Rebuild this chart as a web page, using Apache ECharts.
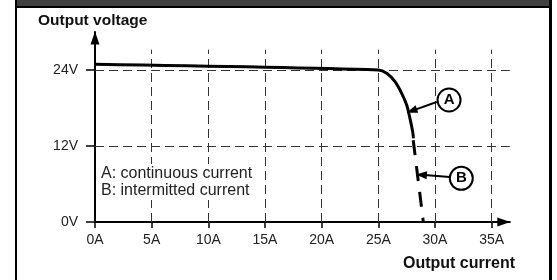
<!DOCTYPE html>
<html>
<head>
<meta charset="utf-8">
<script src="https://cdn.jsdelivr.net/npm/echarts@6/dist/echarts.min.js"></script>
<style>
  html, body { margin: 0; padding: 0; background: #fff; }
  #chart { width: 557px; height: 280px; }
</style>
</head>
<body>
<div id="chart"></div>
<script>
// ticks and gridlines
const xTicks = [0, 5, 10, 15, 20, 25, 30, 35]
const yTicks = [0, 12, 24]
const xGrid = [5, 10, 15, 20, 25, 30, 35]
const yGrid = [12, 24]
const gridTop = 27.2 // where the vertical dashed lines stop

// output curve (A, V)
const continuous = [
  [0, 24.9], [25, 24.0], [25.74, 23.48], [26.47, 22.16], [27.06, 20.32],
  [27.5, 18.47], [27.79, 16.37], [28.03, 14.26], [28.1, 13.2]
]
const intermitted = [[28.08, 12.9], [28.97, 0]]

// callouts
const calloutA = [31.24, 19.26]
const calloutB = [32.32, 6.9]
const arrowA = [[30.15, 18.95], [27.95, 17.55]]
const arrowB = [[31.3, 7.1], [28.8, 7.45]]

const X_MAX = 36.6
const Y_MAX = 30
const FONT = "'Liberation Sans', Arial, sans-serif"

const myChart = echarts.init(document.getElementById('chart'))

const dash = { color: '#333', width: 1, type: [9, 5] }

myChart.setOption({
  animation: false,
  backgroundColor: '#fff',
  grid: {
    left: 95, right: 557 - 95 - X_MAX * (68 / 6), top: 280 - 58 - Y_MAX * (76 / 12), bottom: 58,
    outerBoundsMode: 'none'
  },
  title: {
    text: 'A: continuous current\nB: intermitted current',
    left: 98, top: 164,
    padding: [1, 3],
    backgroundColor: '#fff',
    textStyle: { fontFamily: FONT, fontSize: 16, fontWeight: 'normal', color: '#222', lineHeight: 17 }
  },
  graphic: [
    { type: 'rect', shape: { x: 15, y: 0, width: 537, height: 6 }, style: { fill: '#404040' } },
    { type: 'rect', shape: { x: 15, y: 6, width: 537, height: 2 }, style: { fill: '#000' } },
    { type: 'rect', shape: { x: 15, y: 0, width: 2, height: 280 }, style: { fill: '#000' } },
    { type: 'rect', shape: { x: 549, y: 0, width: 3, height: 280 }, style: { fill: '#000' } },
    {
      type: 'text', left: 38, top: 13,
      style: { text: 'Output voltage', font: 'bold 15.5px ' + FONT, fill: '#111' }
    },
    {
      type: 'text', left: 403, top: 256,
      style: { text: 'Output current', font: 'bold 16px ' + FONT, fill: '#111' }
    }
  ],
  xAxis: {
    type: 'value', min: 0, max: X_MAX,
    splitLine: { show: false },
    axisLine: { lineStyle: { color: '#000', width: 2 }, symbol: ['none', 'triangle'], symbolSize: [9, 13], symbolOffset: [0, -6] },
    axisTick: { show: true, length: 6, customValues: xTicks, lineStyle: { color: '#000', width: 1.5 } },
    axisLabel: { customValues: xTicks, formatter: v => v + 'A', margin: 11, fontFamily: FONT, fontSize: 14, color: '#222' }
  },
  yAxis: {
    type: 'value', min: 0, max: Y_MAX,
    splitLine: { show: false },
    axisLine: { lineStyle: { color: '#000', width: 2 }, symbol: ['none', 'triangle'], symbolSize: [9, 13], symbolOffset: [0, -6] },
    axisTick: { show: true, length: 9, customValues: yTicks, lineStyle: { color: '#000', width: 1.5 } },
    axisLabel: { customValues: yTicks, formatter: v => v + 'V', margin: 17, fontFamily: FONT, fontSize: 14, color: '#222' }
  },
  series: [
    {
      name: 'grid',
      type: 'line',
      data: [],
      silent: true,
      markLine: {
        z: 1,
        silent: true,
        symbol: 'none',
        label: { show: false },
        lineStyle: dash,
        data: [
          ...xGrid.map(v => [{ coord: [v, 0] }, { coord: [v, gridTop] }]),
          ...yGrid.map(v => ({ yAxis: v }))
        ]
      }
    },
    {
      name: 'continuous current',
      type: 'line',
      z: 3,
      data: continuous,
      smooth: 0.3,
      symbol: 'none',
      lineStyle: { color: '#000', width: 3 }
    },
    {
      name: 'intermitted current',
      type: 'line',
      z: 3,
      data: intermitted,
      symbol: 'none',
      lineStyle: { color: '#000', width: 3, type: [15, 11] },
      markLine: {
        z: 6,
        silent: true,
        symbol: ['none', 'triangle'],
        symbolSize: [8, 11],
        label: { show: false },
        lineStyle: { color: '#000', width: 2, type: 'solid' },
        data: [
          [{ coord: arrowA[0] }, { coord: arrowA[1] }],
          [{ coord: arrowB[0] }, { coord: arrowB[1] }]
        ]
      },
      markPoint: {
        z: 7,
        silent: true,
        symbol: 'circle',
        symbolSize: 23,
        itemStyle: { color: '#fff', borderColor: '#000', borderWidth: 2 },
        label: { show: true, position: 'inside', fontFamily: FONT, fontSize: 15, fontWeight: 'bold', color: '#000' },
        data: [
          { coord: calloutA, value: 'A' },
          { coord: calloutB, value: 'B' }
        ]
      }
    }
  ]
})
</script>
</body>
</html>
